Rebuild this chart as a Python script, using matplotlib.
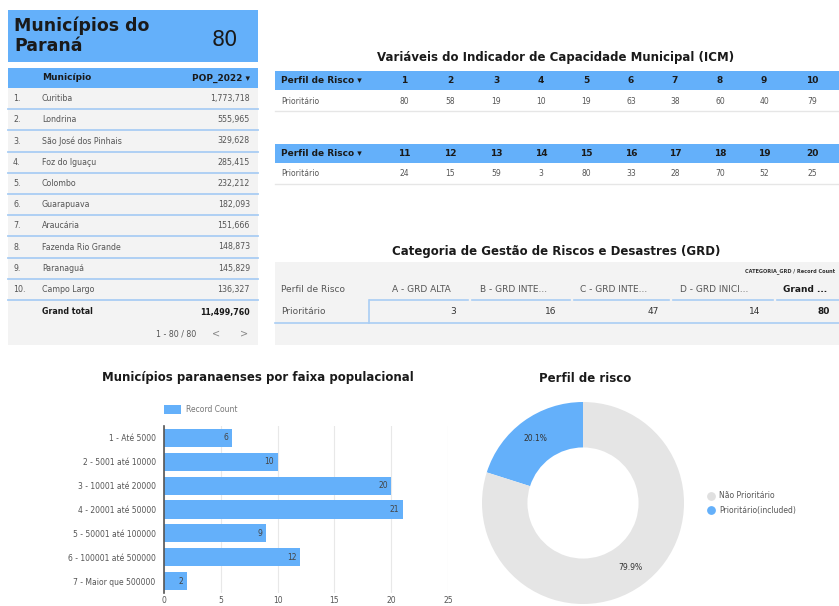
import matplotlib
matplotlib.use("Agg")
import matplotlib.pyplot as plt
from matplotlib.patches import Rectangle
from matplotlib.lines import Line2D

plt.rcParams['font.family'] = ['DejaVu Sans']

# ---------------- data ----------------
total_municipios = 80
municipios = ["Curitiba", "Londrina", "São José dos Pinhais", "Foz do Iguaçu", "Colombo",
              "Guarapuava", "Araucária", "Fazenda Rio Grande", "Paranaguá", "Campo Largo"]
pop_2022 = [1773718, 555965, 329628, 285415, 232212, 182093, 151666, 148873, 145829, 136327]
pop_total = 11499760

icm_vars_a = ["1", "2", "3", "4", "5", "6", "7", "8", "9", "10"]
icm_vals_a = [80, 58, 19, 10, 19, 63, 38, 60, 40, 79]
icm_vars_b = ["11", "12", "13", "14", "15", "16", "17", "18", "19", "20"]
icm_vals_b = [24, 15, 59, 3, 80, 33, 28, 70, 52, 25]

grd_cats = ["A - GRD ALTA", "B - GRD INTE...", "C - GRD INTE...", "D - GRD INICI..."]
grd_vals = [3, 16, 47, 14]
grd_total = 80

faixas = ["1 - Até 5000", "2 - 5001 até 10000", "3 - 10001 até 20000", "4 - 20001 até 50000",
          "5 - 50001 até 100000", "6 - 100001 até 500000", "7 - Maior que 500000"]
faixa_counts = [6, 10, 20, 21, 9, 12, 2]

perfil_labels = ["Prioritário(included)", "Não Prioritário"]
perfil_pct = [20.1, 79.9]

# ---------------- style ----------------
BLUE = "#64b0fa"
LINEBLUE = "#a9cdf3"
GRAYBG = "#f3f3f3"
TXT = "#555555"
W, H = 839, 606

fig = plt.figure(figsize=(W / 100, H / 100), dpi=100)
bg = fig.add_axes([0, 0, 1, 1])
bg.set_xlim(0, W)
bg.set_ylim(H, 0)
bg.axis("off")


def rect(x0, y0, x1, y1, color, z=0):
    bg.add_patch(Rectangle((x0, y0), x1 - x0, y1 - y0, facecolor=color, edgecolor="none", zorder=z))


def hline(x0, x1, y, color, lw=1.0):
    bg.add_line(Line2D([x0, x1], [y, y], color=color, lw=lw, zorder=2))


# ---------- title card ----------
rect(8, 10, 258, 62, BLUE)
bg.text(14, 36, "Municípios do\nParaná", fontsize=12.5, fontweight="bold", color="#1a1a1a",
        va="center", ha="left", linespacing=1.12)
bg.text(238, 40, str(total_municipios), fontsize=15, color="#1a1a1a", va="center", ha="right")

# ---------- municipality table ----------
rect(8, 68, 258, 345, GRAYBG)
rect(8, 68, 258, 88, BLUE)
bg.text(42, 78, "Município", fontsize=6.5, fontweight="bold", color="#1a1a1a", va="center")
bg.text(250, 78, "POP_2022 ▾", fontsize=6.5, fontweight="bold", color="#1a1a1a", va="center", ha="right")
row_h = 21.2
for i, (m, p) in enumerate(zip(municipios, pop_2022)):
    yc = 88 + row_h * (i + 0.5)
    bg.text(13, yc, f"{i + 1}.", fontsize=5.7, color=TXT, va="center")
    bg.text(42, yc, m, fontsize=5.7, color=TXT, va="center")
    bg.text(250, yc, f"{p:,}", fontsize=5.7, color=TXT, va="center", ha="right")
    hline(8, 258, 88 + row_h * (i + 1), LINEBLUE, 1.3)
bg.text(42, 312, "Grand total", fontsize=5.7, fontweight="bold", color="#1a1a1a", va="center")
bg.text(250, 312, f"{pop_total:,}", fontsize=5.7, fontweight="bold", color="#1a1a1a", va="center", ha="right")
bg.text(196, 334, "1 - 80 / 80", fontsize=5.7, color=TXT, va="center", ha="right")
bg.text(216, 334, "<", fontsize=7, color="#888888", va="center", ha="center")
bg.text(244, 334, ">", fontsize=7, color="#888888", va="center", ha="center")

# ---------- ICM tables ----------
bg.text(556, 58, "Variáveis do Indicador de Capacidade Municipal (ICM)", fontsize=8.5,
        fontweight="bold", color="#1a1a1a", ha="center", va="center")
col_x = [404, 450, 496, 541, 586, 631, 675, 720, 764, 812]
for (vars_, vals, hy0, hy1, ry, ly) in [(icm_vars_a, icm_vals_a, 71, 90, 101, 111),
                                         (icm_vars_b, icm_vals_b, 144, 163, 173, 184)]:
    rect(275, hy0, 839, hy1, BLUE)
    bg.text(281, (hy0 + hy1) / 2, "Perfil de Risco ▾", fontsize=6.5, fontweight="bold",
            color="#1a1a1a", va="center")
    bg.text(281, ry, "Prioritário", fontsize=5.5, color=TXT, va="center")
    for x, v, n in zip(col_x, vars_, vals):
        bg.text(x, (hy0 + hy1) / 2, v, fontsize=6.5, fontweight="bold", color="#1a1a1a",
                va="center", ha="center")
        bg.text(x, ry, str(n), fontsize=5.5, color=TXT, va="center", ha="center")
    hline(275, 839, ly, "#e6e6e6", 1.0)

# ---------- GRD table ----------
bg.text(556, 251, "Categoria de Gestão de Riscos e Desastres (GRD)", fontsize=8.5,
        fontweight="bold", color="#1a1a1a", ha="center", va="center")
rect(275, 262, 839, 345, GRAYBG)
bg.text(835, 271, "CATEGORIA_GRD / Record Count", fontsize=3.6, fontweight="bold",
        color="#333333", ha="right", va="center")
bg.text(281, 290, "Perfil de Risco", fontsize=6.5, color=TXT, va="center")
bg.text(281, 312, "Prioritário", fontsize=6.5, color=TXT, va="center")
grd_head_x = [421, 514, 614, 714]
grd_val_x = [456, 556, 659, 760]
seg = [(370, 468), (472, 570), (574, 669), (673, 773)]
for cx, vx, c, v, (s0, s1) in zip(grd_head_x, grd_val_x, grd_cats, grd_vals, seg):
    bg.text(cx, 290, c, fontsize=6.5, color=TXT, va="center", ha="center")
    bg.text(vx, 312, str(v), fontsize=6.5, color="#333333", va="center", ha="right")
    hline(s0, s1, 300, LINEBLUE, 1.2)
hline(777, 839, 300, LINEBLUE, 1.2)
bg.text(805, 290, "Grand ...", fontsize=6.5, fontweight="bold", color="#1a1a1a", va="center", ha="center")
bg.text(830, 312, str(grd_total), fontsize=6.5, fontweight="bold", color="#1a1a1a", va="center", ha="right")
bg.add_line(Line2D([369, 369], [300, 323], color=LINEBLUE, lw=1.2, zorder=2))
hline(275, 839, 323, LINEBLUE, 1.2)

# ---------- bar chart ----------
bg.text(258, 378, "Municípios paranaenses por faixa populacional", fontsize=8.5,
        fontweight="bold", color="#1a1a1a", ha="center", va="center")
rect(164, 405, 181, 414, BLUE)
bg.text(186, 409.5, "Record Count", fontsize=5.5, color="#777777", va="center")

ax = fig.add_axes([164 / W, 1 - 593 / H, (448 - 164) / W, (593 - 426) / H])
ypos = list(range(len(faixas)))
bars = ax.barh(ypos, faixa_counts, height=0.76, color=BLUE, zorder=3)
ax.set_ylim(len(faixas) - 0.5, -0.5)
ax.set_xlim(0, 25)
ax.set_xticks([0, 5, 10, 15, 20, 25])
ax.set_yticks(ypos)
ax.set_yticklabels(faixas)
ax.tick_params(axis="both", length=0, labelsize=5.5, colors="#555555")
ax.tick_params(axis="x", pad=2)
ax.tick_params(axis="y", pad=6)
for s in ["top", "right", "bottom"]:
    ax.spines[s].set_visible(False)
ax.spines["left"].set_color("#555555")
ax.spines["left"].set_linewidth(1.2)
ax.spines["left"].set_zorder(4)
ax.grid(axis="x", color="#e8e8e8", lw=0.8, zorder=0)
ax.set_facecolor("none")
for b, v in zip(bars, faixa_counts):
    ax.text(v - 0.3, b.get_y() + b.get_height() / 2, str(v), ha="right", va="center",
            fontsize=5.5, color="#444444", zorder=5)

# ---------- donut ----------
bg.text(585, 378, "Perfil de risco", fontsize=8.5, fontweight="bold", color="#1a1a1a",
        ha="center", va="center")
pax = fig.add_axes([482 / W, 1 - 604 / H, 202 / W, 202 / H])
wedges, texts, autotexts = pax.pie(perfil_pct, colors=[BLUE, "#e5e5e5"], startangle=90,
                                   counterclock=True, autopct="%.1f%%", pctdistance=0.79,
                                   wedgeprops=dict(width=0.45, edgecolor="none"),
                                   textprops=dict(fontsize=5.5, color="#333333"))
pax.set_xlim(-1, 1)
pax.set_ylim(-1, 1)
pax.set_aspect("equal")
for lab, col, y in [(perfil_labels[1], "#e0e0e0", 496), (perfil_labels[0], BLUE, 510)]:
    bg.scatter([711], [y], s=28, color=col, zorder=3)
    bg.text(719, y, lab, fontsize=5.5, color="#555555", va="center")

fig.savefig("out.png", dpi=100)
